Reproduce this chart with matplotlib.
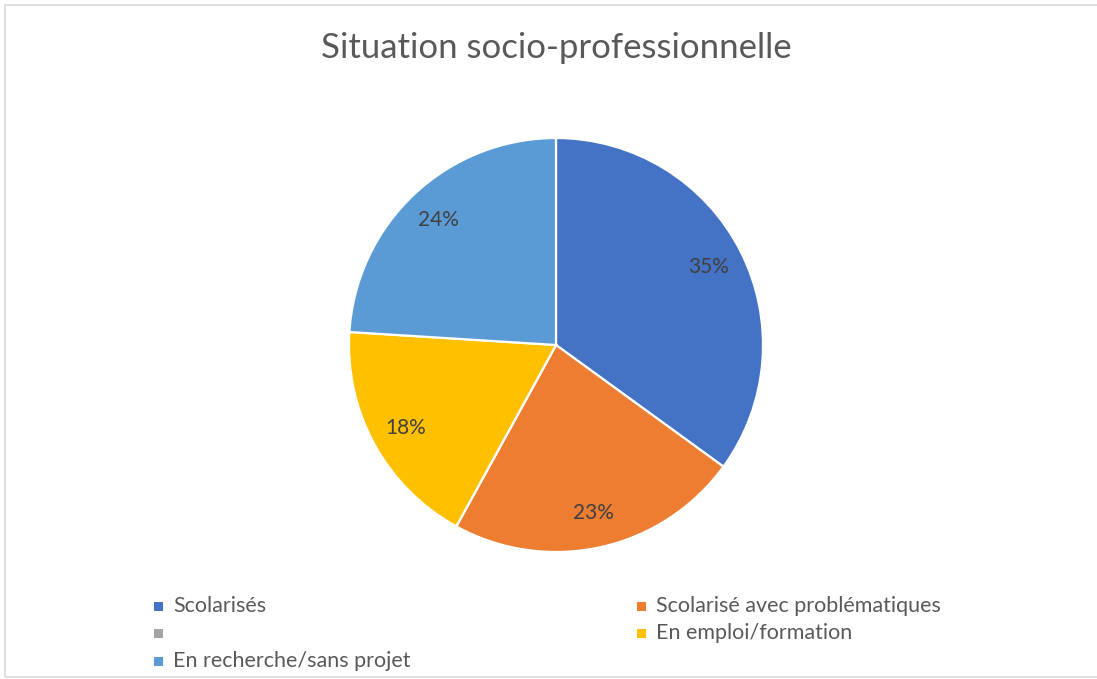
import matplotlib.pyplot as plt
from matplotlib.patches import Rectangle

# Data
labels = ["Scolarisés", "Scolarisé avec problématiques", "", "En emploi/formation",
          "En recherche/sans projet"]
values = [35, 23, 0, 18, 24]
colors = ["#4472C4", "#ED7D31", "#A5A5A5", "#FFC000", "#5B9BD5"]

plt.rcParams['font.family'] = ['Lato', 'DejaVu Sans']

W, H = 1097, 679
fig = plt.figure(figsize=(W / 100, H / 100), dpi=100)

# pie axes: center (556, 345) px, radius 207 px
cx, cy, r = 556, 345, 207
ax = fig.add_axes([(cx - r) / W, (H - cy - r) / H, 2 * r / W, 2 * r / H])


def fmt(p):
    return "" if p < 0.5 else "%.0f%%" % p


wedges, texts, autotexts = ax.pie(values, colors=colors, startangle=90, counterclock=False,
                                  autopct=fmt, pctdistance=0.83, radius=1,
                                  wedgeprops=dict(edgecolor="white", linewidth=1.6))
for t in autotexts:
    t.set_color("#404040")
    t.set_fontsize(15)
ax.set_xlim(-1, 1)
ax.set_ylim(-1, 1)
ax.set_aspect("equal")
ax.axis("off")

# title
fig.text(cx / W, 1 - 48 / H, "Situation socio-professionnelle", ha="center", va="center",
         fontsize=25, color="#595959")

# legend laid out in two columns, row-wise
col_x = [158, 641]
row_y = [606, 633, 661]
sq = 9
for i, (lab, col) in enumerate(zip(labels, colors)):
    x = col_x[i % 2]
    y = row_y[i // 2]
    fig.add_artist(Rectangle(((x - sq / 2) / W, 1 - (y + sq / 2) / H), sq / W, sq / H,
                             transform=fig.transFigure, facecolor=col, edgecolor="none"))
    fig.text((x + 15) / W, 1 - y / H, lab, ha="left", va="center", fontsize=15.5,
             color="#595959")

# chart border (right edge runs past the image)
fig.add_artist(Rectangle((4.5 / W, 1 - 676.5 / H), (W + 10) / W, 672 / H,
                         transform=fig.transFigure, facecolor="none",
                         edgecolor="#D9D9D9", linewidth=1.2))

fig.savefig("out.png", dpi=100)
